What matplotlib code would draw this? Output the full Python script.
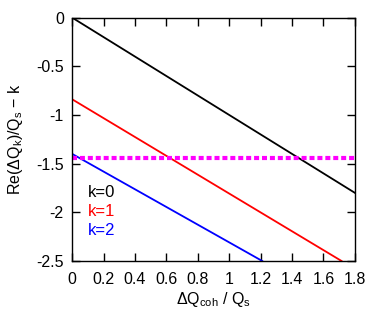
import numpy as np
import matplotlib
matplotlib.use("Agg")
import matplotlib.pyplot as plt

# =========================
# DATA
# =========================
x_end = [0.0, 1.8]
k0_y = [0.0, -1.80]
k1_x = [0.0, 1.715]
k1_y = [-0.839, -2.50]
k2_x = [0.0, 1.21]
k2_y = [-1.40, -2.50]
thresh_y = -1.44

labels = ["k=0", "k=1", "k=2"]
colors = ["black", "red", "blue"]
legend_y = [-1.80, -1.995, -2.19]

plt.rcParams["font.family"] = ["Liberation Sans", "DejaVu Sans"]
plt.rcParams["mathtext.fontset"] = "custom"
plt.rcParams["mathtext.rm"] = "Liberation Sans"
plt.rcParams["mathtext.it"] = "Liberation Sans"

fig = plt.figure(figsize=(3.82, 3.21), dpi=100)
ax = fig.add_axes([0.189, 0.187, 0.740, 0.758])

ax.plot(x_end, k0_y, color=colors[0], lw=1.3)
ax.plot(k1_x, k1_y, color=colors[1], lw=1.3)
ax.plot(k2_x, k2_y, color=colors[2], lw=1.3)
ax.axhline(thresh_y, color="magenta", lw=3, dashes=(1.2, 0.7))

ax.set_xlim(0, 1.8)
ax.set_ylim(-2.5, 0)
ax.set_xticks(np.arange(0, 1.81, 0.2))
ax.set_xticklabels(["0", "0.2", "0.4", "0.6", "0.8", "1", "1.2", "1.4", "1.6", "1.8"])
ax.set_yticks([0, -0.5, -1, -1.5, -2, -2.5])
ax.set_yticklabels(["0", "-0.5", "-1", "-1.5", "-2", "-2.5"])
ax.tick_params(direction="in", top=True, right=True, length=6, width=1,
               labelsize=11.5)
ax.tick_params(axis="x", pad=8)
ax.tick_params(axis="y", pad=6)
for s in ax.spines.values():
    s.set_linewidth(1)

ax.set_xlabel(r"$\Delta$Q$_{\mathrm{coh}}$ / Q$_{\mathrm{s}}$", fontsize=11.5, labelpad=2)
ax.set_ylabel(r"Re($\Delta$Q$_{\mathrm{k}}$)/Q$_{\mathrm{s}}$ $-$ k", fontsize=11.5, labelpad=8)

# legend as coloured text
for lab, c, yy in zip(labels, colors, legend_y):
    ax.text(0.10, yy, lab, color=c, fontsize=12, ha="left", va="center")

fig.savefig("out.png", dpi=100)
